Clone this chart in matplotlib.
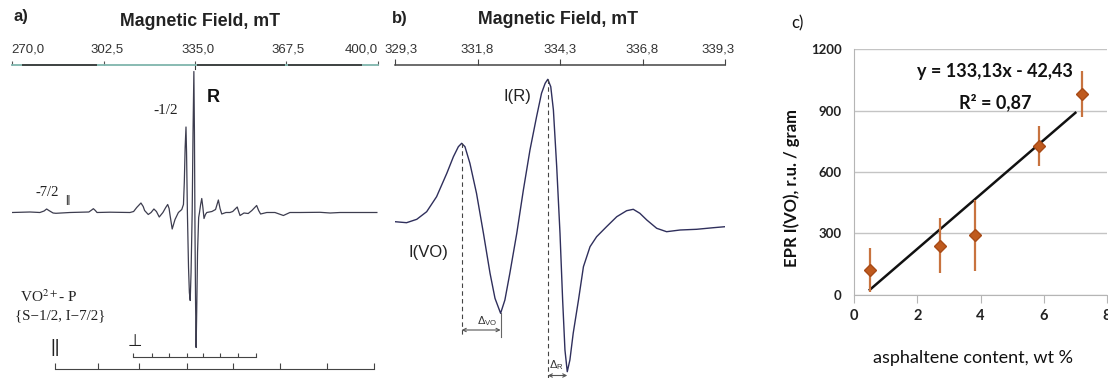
import matplotlib
matplotlib.use("Agg")
import matplotlib.pyplot as plt
import matplotlib.transforms as mtransforms
import numpy as np

W, H = 1108, 378

# ---------------- Panel a: wide-sweep EPR spectrum ----------------
a_field = [270.0, 276.4, 279.9, 281.4, 282.3, 283.1, 284.6, 285.6, 290.6, 297.3,
           298.3, 298.9, 299.6, 300.2, 304.8, 311.9, 313.2, 314.3, 315.8, 316.6,
           317.1, 318.4, 319.4, 320.4, 321.3, 322.3, 323.6, 324.6, 325.3, 325.8,
           326.1, 326.9, 327.9, 329.1, 330.3, 330.9, 331.2, 331.5, 331.8, 332.0,
           332.3, 332.7, 333.0, 333.3, 333.6, 334.0, 334.3, 334.6, 334.8, 335.0,
           335.2, 335.4, 335.6, 335.9, 336.3, 336.6, 337.0, 337.4, 337.8, 338.2,
           338.7, 339.2, 341.0, 342.3, 343.3, 343.9, 344.5, 346.0, 347.4, 348.4,
           349.1, 350.0, 350.5, 351.0, 352.4, 353.9, 355.2, 356.9, 357.6, 358.3,
           360.5, 363.4, 366.4, 368.7, 372.3, 379.4, 383.0, 386.5, 393.6, 399.6]
a_signal = [0, 0.5, 0, 1.5, 3.5, 2, -0.5, -0.8, 0, 0.5,
            2.5, 3.8, 2, 0, 0.3, 0, 1, 5, 9.5, 6,
            2, -2, 0, 3.5, 1, -4.5, 0, 5, 8, 4,
            -2, -16.5, -7, 0, 3, 8, 30, 65, 85.5, 60,
            0, -55, -80, -88, -60, 0, 80, 141, 80, -20,
            -90, -135, -100, -40, -5, 0, 8, 14, 5, -6,
            -2, 0, 1, 3, 12.5, 4, -1.5, 0, 0, 1,
            3, 5.5, 1, -3, -0.5, -1, 2, 7, 2, -1.5,
            0, 0, -3, 0, 0, 0.2, -0.5, 0, 0, 0]
a_ticks = [270.0, 302.5, 335.0, 367.5, 400.0]
a_ticklabels = ["270,0", "302,5", "335,0", "367,5", "400,0"]
a_par_sticks = [285.3, 300.5, 315.1, 332.2, 348.5, 365.2, 381.9, 398.6]
a_perp_sticks = [313.0, 319.7, 325.8, 332.2, 337.8, 343.9, 350.3, 356.7]

# ---------------- Panel b: narrow-sweep EPR spectrum ----------------
b_field = [329.30, 329.65, 329.96, 330.26, 330.56, 330.87, 331.07, 331.22, 331.32, 331.42,
           331.57, 331.77, 331.98, 332.18, 332.33, 332.50, 332.63, 332.78, 332.99, 333.19,
           333.39, 333.59, 333.74, 333.85, 333.93, 334.02, 334.10, 334.20, 334.30, 334.38,
           334.45, 334.52, 334.60, 334.70, 334.86, 335.01, 335.21, 335.41, 335.71, 336.02,
           336.32, 336.52, 336.72, 336.93, 337.23, 337.53, 337.94, 338.44, 338.95, 339.30]
b_signal = [0.3, -0.7, 2.7, 10.3, 25.3, 48.7, 65.3, 75.3, 78.7, 75.3,
            58.7, 28.7, -11.3, -51.3, -76.3, -91.3, -78, -51.3, -11.3, 32,
            72, 105.3, 128.7, 138.7, 142.7, 135.3, 112, 55.3, -11.3, -78,
            -128, -149.7, -138, -111.3, -78, -44.7, -24.7, -14.7, -4.7, 5.3,
            11.3, 12.7, 8.7, 2, -6.3, -9.7, -8, -7.3, -5.7, -4.7]
b_ticks = [329.3, 331.8, 334.3, 336.8, 339.3]
b_ticklabels = ["329,3", "331,8", "334,3", "336,8", "339,3"]

# ---------------- Panel c: EPR vs asphaltene ----------------
c_asph = [0.5, 2.71, 3.84, 5.84, 7.2]
c_epr = [120, 240, 290, 728, 980]
c_err = [108, 135, 175, 97, 113]
c_fit_slope = 133.13
c_fit_icpt = -42.43
c_fit_range = [0.5, 7.0]
c_xticks = [0, 2, 4, 6, 8]
c_yticks = [0, 300, 600, 900, 1200]

plt.rcParams["mathtext.fontset"] = "stix"
fig = plt.figure(figsize=(W / 100, H / 100), dpi=100)
fig.patch.set_facecolor("white")


def px_axes(x0, y0, x1, y1):
    return fig.add_axes([x0 / W, 1 - y1 / H, (x1 - x0) / W, (y1 - y0) / H])


def ft(x, y, s, **kw):
    kw.setdefault("ha", "center")
    kw.setdefault("va", "center")
    return fig.text(x / W, 1 - y / H, s, **kw)


SANS = "Liberation Sans"
SERIF = "Liberation Serif"
CAL = "Lato"


def top_labels(ax, ticks, labels, nudges):
    tr = ax.get_xaxis_transform()
    for t, lab, dx in zip(ticks, labels, nudges):
        off = mtransforms.offset_copy(tr, fig=fig, x=dx, y=15, units="dots")
        ax.text(t, 1, lab, transform=off, ha="center", va="center", fontsize=9.5,
                family=SANS, color="#333", clip_on=False)


# ======== Panel a ========
axa = px_axes(12, 65, 378, 378)
axa.set_xlim(270, 400)
axa.set_ylim(-165.5, 147.5)
axa.patch.set_alpha(0)
for s in ["left", "right", "bottom"]:
    axa.spines[s].set_visible(False)
axa.spines["top"].set_color("#7fb5ad")
axa.spines["top"].set_linewidth(1.3)
axa.set_yticks([])
axa.xaxis.tick_top()
axa.set_xticks(a_ticks, [""] * len(a_ticks))
axa.tick_params(axis="x", direction="out", length=3, width=0.8, color="#555")
top_labels(axa, a_ticks, a_ticklabels, [16, 4, 3, 2, -17])
xtr = axa.get_xaxis_transform()
for seg in [(273.6, 300.2), (335.7, 367.0), (368.0, 394.3)]:
    axa.plot(seg, [1, 1], color="#3a3a3a", lw=1.3, transform=xtr, clip_on=False,
             solid_capstyle="butt", zorder=4)
axa.plot([335.0, 335.0], [1, 0.988], color="#333", lw=0.8, transform=xtr, clip_on=False)

axa.plot(a_field, a_signal, color="#3d3d4f", lw=0.9)

# stick diagrams
par_y, par_tick = -156.5, -150.0
perp_y, perp_tick = -144.5, -140.5
axa.plot([a_par_sticks[0], a_par_sticks[-1]], [par_y, par_y], color="#444", lw=0.8)
axa.vlines(a_par_sticks, par_y, par_tick, color="#444", lw=0.8)
axa.plot([a_perp_sticks[0], a_perp_sticks[-1]], [perp_y, perp_y], color="#444", lw=0.8)
axa.vlines(a_perp_sticks, perp_y, perp_tick, color="#444", lw=0.8)

ft(13, 17, "a)", ha="left", fontsize=12, fontweight="bold", family=SANS, color="#222")
ft(200, 21, "Magnetic Field, mT", fontsize=12.8, fontweight="bold", family=SANS, color="#222")
ft(213, 97, "R", fontsize=13, fontweight="bold", family=SANS, color="#111")
ft(166, 111, "-1/2", fontsize=11, family=SERIF, color="#222")
ft(47, 192, "-7/2", fontsize=10.5, family=SERIF, color="#222")
ft(68, 200, "||", fontsize=7.5, family=SANS, color="#111")
ft(20, 297, r"VO$^{2+}$- P", ha="left", fontsize=11, family=SERIF, color="#222")
ft(15, 316, "{S\u22121/2, I\u22127/2}", ha="left", fontsize=10.8, family=SERIF, color="#222")
ft(55, 348, "||", fontsize=13, family=SANS, color="#222")
ft(135, 341, "\u22a5", fontsize=12, family="DejaVu Sans", color="#222")

# ======== Panel b ========
axb = px_axes(395, 65, 725, 378)
axb.set_xlim(329.3, 339.3)
axb.set_ylim(-156, 157)
axb.patch.set_alpha(0)
for s in ["left", "right", "bottom"]:
    axb.spines[s].set_visible(False)
axb.spines["top"].set_color("#444")
axb.spines["top"].set_linewidth(1.1)
axb.set_yticks([])
axb.xaxis.tick_top()
axb.set_xticks(b_ticks, [""] * len(b_ticks))
axb.tick_params(axis="x", direction="out", length=4, width=0.8, color="#444")
top_labels(axb, b_ticks, b_ticklabels, [6, 0, 0, 0, -7])

axb.plot(b_field, b_signal, color="#2f2f5c", lw=1.0)

bf = np.array(b_field)
bs = np.array(b_signal)
i_vo_max = int(np.argmax(np.where(bf < 332.0, bs, -1e9)))
i_vo_min = int(np.argmin(np.where(bf < 332.6, bs, 1e9)))
i_r_max = int(np.argmax(bs))
i_r_min = int(np.argmin(bs))
vo_bot = -115
r_bot = -156
axb.plot([bf[i_vo_max]] * 2, [bs[i_vo_max], vo_bot], color="#444", lw=0.8,
         ls=(0, (4, 3)))
axb.plot([bf[i_vo_min]] * 2, [bs[i_vo_min], vo_bot], color="#666", lw=0.8)
axb.plot([bf[i_r_max]] * 2, [bs[i_r_max], r_bot], color="#444", lw=0.8,
         ls=(0, (4, 3)), clip_on=False)
axb.annotate("", xy=(bf[i_vo_min], -108), xytext=(bf[i_vo_max], -108),
             arrowprops=dict(arrowstyle="<->", color="#555", lw=0.8,
                             shrinkA=0, shrinkB=0, mutation_scale=6))
axb.annotate("", xy=(bf[i_r_min], -153.5), xytext=(bf[i_r_max], -153.5),
             arrowprops=dict(arrowstyle="<->", color="#555", lw=0.8,
                             shrinkA=0, shrinkB=0, mutation_scale=6),
             annotation_clip=False)

ft(392, 18, "b)", ha="left", fontsize=12, fontweight="bold", family=SANS, color="#222")
ft(558, 20, "Magnetic Field, mT", fontsize=12.8, fontweight="bold", family=SANS, color="#222")
ft(517, 97, "I(R)", fontsize=12, family=SANS, color="#222")
ft(428, 253, "I(VO)", fontsize=12, family=SANS, color="#222")
ft(487, 321, r"$\mathregular{\Delta_{VO}}$", fontsize=8, family=SANS, color="#333")
ft(556, 365, r"$\mathregular{\Delta_{R}}$", fontsize=8, family=SANS, color="#333")

# ======== Panel c ========
axc = px_axes(854, 49.3, 1107, 294.7)
axc.set_xlim(0, 8)
axc.set_ylim(0, 1200)
axc.patch.set_alpha(0)
axc.spines["top"].set_visible(False)
axc.spines["right"].set_visible(False)
axc.spines["left"].set_color("#b5b5b5")
axc.spines["bottom"].set_color("#b5b5b5")
axc.set_xticks(c_xticks)
axc.set_yticks(c_yticks)
axc.yaxis.grid(True, color="#c4c4c4", lw=1.0)
axc.set_axisbelow(True)
axc.tick_params(axis="y", length=0, pad=9, labelsize=9.5)
axc.tick_params(axis="x", length=6, color="#b5b5b5", pad=4, labelsize=10.5)
for t in axc.get_xticklabels() + axc.get_yticklabels():
    t.set_fontfamily(CAL)
    t.set_fontweight("bold")
    t.set_color("#222")

fx = np.array(c_fit_range)
axc.plot(fx, c_fit_slope * fx + c_fit_icpt, color="#111", lw=1.8, zorder=2)
axc.errorbar(c_asph, c_epr, yerr=c_err, fmt="D", ms=6.5, mfc="#bf5a1e", mec="#a84a16",
             ecolor="#c8733f", elinewidth=1.6, capsize=0, zorder=3)

ft(797, 23, "c)", fontsize=12, family=CAL, color="#111")
ft(995, 72, "y = 133,13x - 42,43", fontsize=13, fontweight="bold", family=CAL, color="#111")
ft(995, 102, "R\u00b2 = 0,87", fontsize=13, fontweight="bold", family=CAL, color="#111")
ft(792, 188, "EPR I(VO), r.u. / gram", rotation=90, fontsize=12, fontweight="bold",
   family=CAL, color="#111")
ft(973, 358, "asphaltene content, wt %", fontsize=13, family=CAL, color="#111")

fig.savefig("out.png", dpi=100, facecolor="white")
